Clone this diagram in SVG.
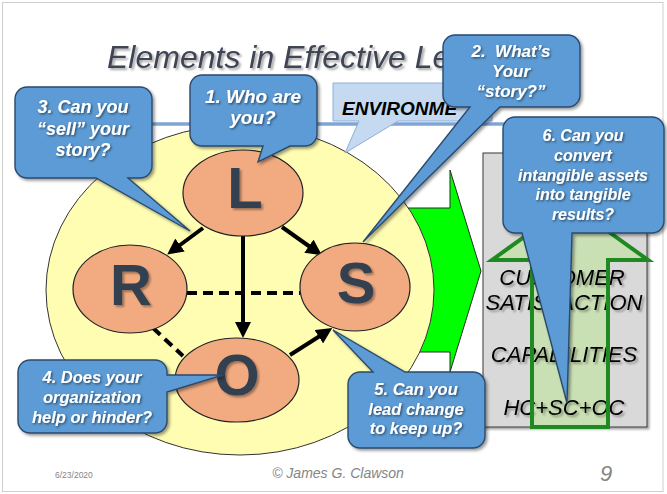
<svg xmlns="http://www.w3.org/2000/svg" width="667" height="494" viewBox="0 0 667 494">
<defs>
<style>
.title{font-family:"Liberation Sans",Arial,sans-serif;font-style:italic;font-size:32px;fill:#3f4554}
.env{font-family:"Liberation Sans",Arial,sans-serif;font-weight:bold;font-style:italic;font-size:19px;fill:#000}
.node ellipse{fill:#f2ab80;stroke:#222;stroke-width:1.2}
.node text{font-family:"Liberation Sans",Arial,sans-serif;font-weight:bold;font-size:58px;fill:#333f50;text-anchor:middle}
.callout path{fill:#5b9bd5;stroke:#2b4a6c;stroke-width:1.4}
.callout text{font-family:"Liberation Sans",Arial,sans-serif;font-weight:bold;font-style:italic;fill:#fff;text-anchor:middle}
.box text{font-family:"Liberation Sans",Arial,sans-serif;font-style:italic;font-size:22px;fill:#000;text-anchor:middle}
.conn{stroke:#000;stroke-width:4;fill:none}
.dash{stroke-dasharray:10,6}
.foot{font-family:"Liberation Sans",Arial,sans-serif;fill:#858585}
</style>
<filter id="sh" x="-10%" y="-10%" width="130%" height="130%">
<feDropShadow dx="2" dy="2" stdDeviation="1.8" flood-color="#000" flood-opacity="0.4"/>
</filter>
<filter id="ts" x="-10%" y="-10%" width="130%" height="130%">
<feDropShadow dx="1.2" dy="1.2" stdDeviation="0.8" flood-color="#000" flood-opacity="0.55"/>
</filter>
<filter id="ls" x="-10%" y="-10%" width="130%" height="130%">
<feDropShadow dx="2" dy="2" stdDeviation="1.2" flood-color="#000" flood-opacity="0.35"/>
</filter>
<marker id="ah" markerUnits="userSpaceOnUse" markerWidth="16" markerHeight="16" refX="5" refY="8" orient="auto">
<path d="M0,0 L16,8 L0,16 Z" fill="#000"/>
</marker>
</defs>

<rect x="0" y="0" width="667" height="494" fill="#fff"/>
<rect x="2.5" y="2.5" width="660.5" height="489" fill="none" stroke="#cfcfcf" stroke-width="1"/>

<text class="title" x="107" y="68" filter="url(#ls)">Elements in Effective Le</text>
<line x1="120" y1="124" x2="522" y2="124" stroke="#7fa5d2" stroke-width="3.5"/>

<g id="green-arrow">
<polygon points="380,208 450,208 450,170 481,271 450,372 450,352 380,352" fill="#00ff00" stroke="#2a2a2a" stroke-width="1"/>
</g>

<g id="environment-circle">
<ellipse cx="240" cy="290" rx="194" ry="165" fill="#fffdb2" stroke="#333" stroke-width="1"/>
</g>

<g id="environment-label">
<path d="M333,83 H492 V121 H398 L345,153 L359,121 H333 Z" fill="#c5d9f0" stroke="#8eaedb" stroke-width="1"/>
<text class="env" x="342" y="115">ENVIRONME</text>
</g>

<g id="results-box">
<rect x="483" y="153" width="164" height="274" fill="#d9d9d9" stroke="#3a3a3a" stroke-width="1" filter="url(#ls)"/>
<polygon points="570,204 648,260 608,260 608,427 532,427 532,260 492,260" fill="#c9dfb4"/>
<g class="box" filter="url(#ls)">
<text x="562" y="285">CUSTOMER</text>
<text x="564" y="310">SATISFACTION</text>
<text x="564" y="362">CAPABILITIES</text>
<text x="564" y="415">HC+SC+OC</text>
</g>
<polygon points="570,204 648,260 608,260 608,427 532,427 532,260 492,260" fill="none" stroke="#1f8a22" stroke-width="4"/>
</g>

<g id="connectors">
<line class="conn" x1="203" y1="228" x2="176" y2="248" marker-end="url(#ah)"/>
<line class="conn" x1="282" y1="227" x2="313" y2="249" marker-end="url(#ah)"/>
<line class="conn" x1="243" y1="236" x2="243" y2="327" marker-end="url(#ah)"/>
<line class="conn" x1="290" y1="355" x2="323" y2="334" marker-end="url(#ah)"/>
<line class="conn dash" x1="187" y1="293" x2="300" y2="293"/>
<line class="conn dash" x1="153" y1="328" x2="183" y2="356"/>
</g>

<g id="node-L" class="node">
<ellipse cx="243" cy="193" rx="60" ry="43"/>
<text x="245" y="208" filter="url(#ls)">L</text>
</g>
<g id="node-R" class="node">
<ellipse cx="130" cy="289" rx="57" ry="44"/>
<text x="131" y="305" filter="url(#ls)">R</text>
</g>
<g id="node-S" class="node">
<ellipse cx="355" cy="287" rx="55" ry="44"/>
<text x="356" y="303" filter="url(#ls)">S</text>
</g>
<g id="node-O" class="node">
<ellipse cx="237" cy="380" rx="62" ry="42"/>
<text x="237" y="395" filter="url(#ls)">O</text>
</g>

<g id="callout-3" class="callout">
<path filter="url(#sh)" d="M27,87 H140 A12,12 0 0 1 152,99 V166 A12,12 0 0 1 140,178 H128 L190,231 L96,178 H27 A12,12 0 0 1 15,166 V99 A12,12 0 0 1 27,87 Z"/>
<g filter="url(#ts)" font-size="18">
<text x="83" y="113">3. Can you</text>
<text x="83" y="135">“sell” your</text>
<text x="83" y="156">story?</text>
</g>
</g>

<g id="callout-1" class="callout">
<path filter="url(#sh)" d="M202,75 H305 A12,12 0 0 1 317,87 V134 A12,12 0 0 1 305,146 H290 L258,162 L263,146 H202 A12,12 0 0 1 190,134 V87 A12,12 0 0 1 202,75 Z"/>
<g filter="url(#ts)" font-size="19">
<text x="253" y="103">1. Who are</text>
<text x="253" y="124">you?</text>
</g>
</g>

<g id="callout-2" class="callout">
<path filter="url(#sh)" d="M455,35 H568 A12,12 0 0 1 580,47 V95 A12,12 0 0 1 568,107 H500 L363,242 L470,107 H455 A12,12 0 0 1 443,95 V47 A12,12 0 0 1 455,35 Z"/>
<g filter="url(#ts)" font-size="17">
<text x="511" y="57" xml:space="preserve">2.  What’s</text>
<text x="511" y="77">Your</text>
<text x="511" y="97">“story?”</text>
</g>
</g>

<g id="callout-4" class="callout">
<path filter="url(#sh)" d="M30,360 H155 A12,12 0 0 1 167,372 V375 L223,375 L167,392 V421 A12,12 0 0 1 155,433 H30 A12,12 0 0 1 18,421 V372 A12,12 0 0 1 30,360 Z"/>
<g filter="url(#ts)" font-size="16.5">
<text x="92" y="383">4. Does your</text>
<text x="92" y="403">organization</text>
<text x="92" y="423">help or hinder?</text>
</g>
</g>

<g id="callout-5" class="callout">
<path filter="url(#sh)" d="M360,372 H373 L333,330 L405,372 H473 A12,12 0 0 1 485,384 V436 A12,12 0 0 1 473,448 H360 A12,12 0 0 1 348,436 V384 A12,12 0 0 1 360,372 Z"/>
<g filter="url(#ts)" font-size="16.5">
<text x="416" y="395">5. Can you</text>
<text x="416" y="415">lead change</text>
<text x="416" y="434">to keep up?</text>
</g>
</g>

<g id="callout-6" class="callout">
<path filter="url(#sh)" d="M515,117 H652 A12,12 0 0 1 664,129 V221 A12,12 0 0 1 652,233 H572 L567,403 L522,233 H515 A12,12 0 0 1 503,221 V129 A12,12 0 0 1 515,117 Z"/>
<g filter="url(#ts)" font-size="16">
<text x="583" y="141">6. Can you</text>
<text x="583" y="161">convert</text>
<text x="583" y="181">intangible assets</text>
<text x="583" y="200">into tangible</text>
<text x="583" y="220">results?</text>
</g>
</g>

<text class="foot" x="55" y="478" font-size="8.5">6/23/2020</text>
<text class="foot" x="338" y="478" font-size="14" font-style="italic" text-anchor="middle">© James G. Clawson</text>
<text class="foot" x="600" y="481" font-size="22" font-style="italic">9</text>
</svg>
